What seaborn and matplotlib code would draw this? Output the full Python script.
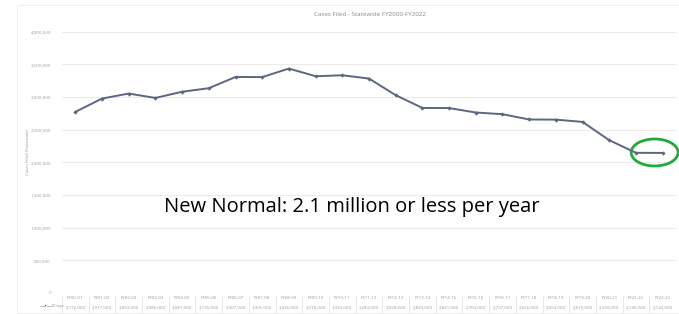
import matplotlib
matplotlib.use("Agg")
import matplotlib.pyplot as plt
from matplotlib.patches import Ellipse
import seaborn as sns
import pandas as pd
import numpy as np

fiscal_years = ["FY00-01", "FY01-02", "FY02-03", "FY03-04", "FY04-05", "FY05-06",
                "FY06-07", "FY07-08", "FY08-09", "FY09-10", "FY10-11", "FY11-12",
                "FY12-13", "FY13-14", "FY14-15", "FY15-16", "FY16-17", "FY17-18",
                "FY18-19", "FY19-20", "FY20-21", "FY21-22", "FY22-23"]
cases_filed = [2772000, 2977000, 3053000, 2986000, 3081000, 3135000,
               3307000, 3305000, 3436000, 3318000, 3333000, 3283000,
               3028000, 2833000, 2831000, 2763000, 2737000, 2656000,
               2654000, 2619000, 2339000, 2146000, 2144000]
y_ticks = [0, 500000, 1000000, 1500000, 2000000, 2500000, 3000000, 3500000, 4000000]
title_text = "Cases Filed - Statewide FY2000-FY2022"
note_text = "New Normal: 2.1 million or less per year"
series_name = "Filings"

df = pd.DataFrame({"idx": np.arange(len(fiscal_years)), "fy": fiscal_years, "filed": cases_filed})

sns.set_theme(style="white")
plt.rcParams["font.family"] = ["Open Sans", "DejaVu Sans"]

fig = plt.figure(figsize=(6.79, 3.14), dpi=100)
ax = fig.add_axes([62/679, (314-293)/314, (676-62)/679, (293-31.7)/314])

sns.lineplot(data=df, x="idx", y="filed", ax=ax, color="#5d6680", linewidth=1.4,
             marker="D", markersize=2.2, markeredgewidth=0, legend=False)

ax.set_xlim(-0.5, len(fiscal_years) - 0.5)
ax.set_ylim(0, 4000000)
ax.set_yticks(y_ticks)
ax.set_yticklabels([f"{v:,}" for v in y_ticks], fontsize=3.2, color="#9a9a9a")
ax.tick_params(axis="y", length=0, pad=8)
ax.set_xticks([])
ax.set_xlabel("")
ax.set_ylabel("")
ax.grid(axis="y", color="#ececec", linewidth=0.8)
for s in ax.spines.values():
    s.set_visible(False)

# data table under x axis
trans = ax.get_xaxis_transform()
for i, (fy, v) in enumerate(zip(fiscal_years, cases_filed)):
    ax.text(i, -0.013, fy, transform=trans, ha="center", va="top", fontsize=3.2, color="#9a9a9a",
            clip_on=False)
    ax.text(i, -0.045, f"{v:,}", transform=trans, ha="center", va="top", fontsize=3.2, color="#9a9a9a",
            clip_on=False)
    ax.plot([i - 0.5, i - 0.5], [-0.01, -0.085], transform=trans, color="#dddddd", lw=0.5, clip_on=False)
fig.text(40/679, 1 - 306/314, "—•—", fontsize=4, color="#4a5060", ha="left", va="center")
fig.text(52/679, 1 - 306/314, series_name, fontsize=3.2, color="#9a9a9a", ha="left", va="center")

fig.text(370/679, 1 - 14/314, title_text, fontsize=4.5, color="#8a8a8a", ha="center", va="center")
fig.text(28/679, 1 - 152/314, "Cases Filed (Statewide)", fontsize=3.2, color="#9a9a9a",
         rotation=90, ha="center", va="center")

ax.text(10.36, 1316000, note_text, fontsize=14.5, color="black", ha="center", va="center",
        family=["Open Sans", "DejaVu Sans"])

ell = Ellipse((21.7, 2151000), width=1.76, height=413000, fill=False, edgecolor="#1faa3a",
              linewidth=2.0, clip_on=False)
ax.add_patch(ell)

fig.add_artist(plt.Rectangle((17/679, 1 - 313/314), 662/679, 308/314, fill=False,
                             edgecolor="#f0f0f0", linewidth=0.8, transform=fig.transFigure))

fig.savefig("out.png", dpi=100, facecolor="white")
